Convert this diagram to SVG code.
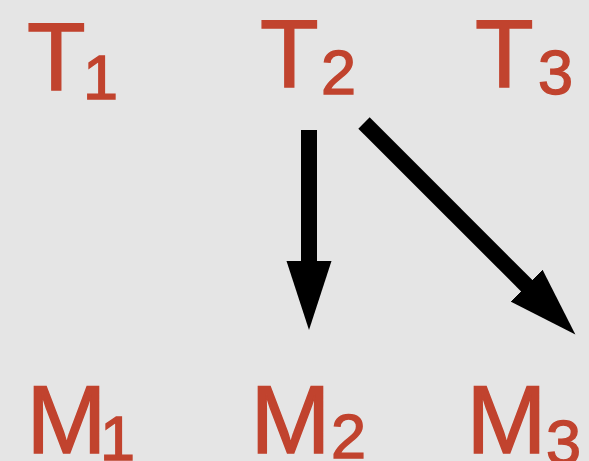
<svg xmlns="http://www.w3.org/2000/svg" width="589" height="461" viewBox="0 0 589 461">
<style>
.lbl{font-family:"Liberation Sans","Arimo","DejaVu Sans",sans-serif;fill:#c1432e;stroke:#c1432e;stroke-width:1.4px;}
.main{font-size:96px;}
.sub{font-size:63px;}
.arr{stroke:#000;stroke-width:16;fill:none;marker-end:url(#head);}
</style>
<defs>
<marker id="head" markerUnits="userSpaceOnUse" viewBox="0 -23 72 46" markerWidth="72" markerHeight="46" refX="2" refY="0" orient="auto">
<path d="M0,-22.5 L69,0 L0,22.5 Z" fill="#000"/>
</marker>
</defs>
<rect width="589" height="461" fill="#e5e5e5"/>
<g id="T1"><text class="lbl main" x="27" y="90">T</text><text class="lbl sub" x="83" y="99">1</text></g>
<g id="T2"><text class="lbl main" x="260" y="87">T</text><text class="lbl sub" x="321" y="94">2</text></g>
<g id="T3"><text class="lbl main" x="475" y="87">T</text><text class="lbl sub" x="538" y="94">3</text></g>
<g id="M1"><text class="lbl main" x="26.5" y="453">M</text><text class="lbl sub" x="100" y="460">1</text></g>
<g id="M2"><text class="lbl main" x="250.5" y="453">M</text><text class="lbl sub" x="331" y="458">2</text></g>
<g id="M3"><text class="lbl main" x="466.5" y="453">M</text><text class="lbl sub" x="546" y="464">3</text></g>
<g id="connectors">
<line class="arr" x1="309" y1="130" x2="309" y2="263"/>
<line class="arr" x1="364" y1="123" x2="528" y2="287"/>
</g>
</svg>
